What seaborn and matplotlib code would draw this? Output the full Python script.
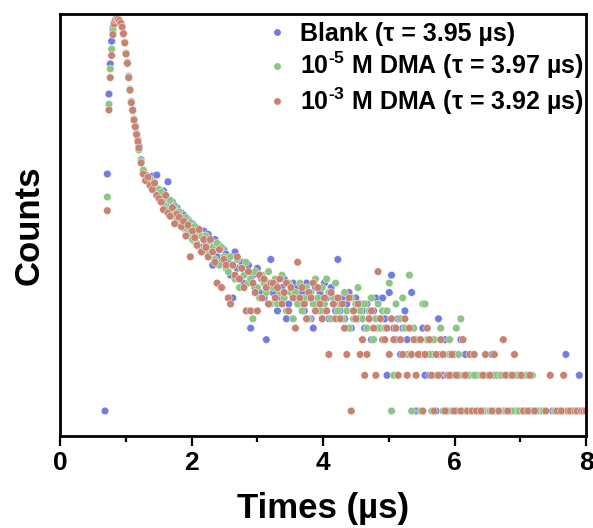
import numpy as np
import pandas as pd
import matplotlib
matplotlib.use("Agg")
import matplotlib.pyplot as plt
import seaborn as sns
from matplotlib.ticker import FixedLocator, NullLocator

# ---------------- data ----------------
# early channels: rise, peak and fast decay (µs)
t_early = [0.685, 0.72, 0.745, 0.765, 0.785, 0.805, 0.825, 0.845, 0.865, 0.885,
           0.905, 0.925, 0.945, 0.965, 0.985, 1.005, 1.025, 1.045, 1.065, 1.085,
           1.105, 1.125, 1.145, 1.165, 1.185]
blank_early = [1, 100, 473, 850, 1320, 1700, 1930, 2020, 2040, 2000,
               1960, 1880, 1750, 1540, 1290, 1050, 870, 670, 520, 410,
               350, 290, 255, 220, 195]
dma5_early = [0, 64, 388, 770, 1130, 1620, 1900, 2000, 2050, 2010,
              1950, 1860, 1730, 1510, 1270, 1040, 850, 660, 515, 405,
              340, 285, 250, 215, 190]
dma3_early = [0, 49, 347, 650, 1000, 1500, 1850, 1990, 2040, 2030,
              1970, 1870, 1740, 1530, 1280, 1030, 860, 650, 510, 400,
              345, 286, 250, 215, 188]

# tail channels 1.200 ... 8.000 µs, 0.034 µs apart (201 channels)
t_tail = np.round(1.20 + 0.034 * np.arange(201), 3)
blank_tail = [172, 132, 104, 98, 92, 84, 96, 78, 98, 70,
              64, 72, 55, 86, 50, 58, 44, 52, 40, 47,
              45, 34, 41, 30, 38, 27, 35, 31, 24, 33,
              26, 31, 22, 17, 28, 20, 25, 18, 23, 21,
              19, 14, 9, 22, 16, 13, 18, 12, 15, 17,
              5, 14, 11, 16, 10, 13, 9, 4, 12, 19,
              10, 12, 7, 9, 11, 13, 6, 8, 10, 12,
              9, 11, 8, 10, 7, 12, 9, 6, 5, 11,
              8, 10, 7, 12, 9, 6, 11, 8, 7, 19,
              7, 9, 6, 8, 10, 5, 7, 9, 6, 8,
              7, 5, 8, 6, 4, 7, 9, 5, 6, 9,
              6, 2, 10, 14, 5, 4, 6, 3, 5, 7,
              4, 3, 10, 5, 1, 4, 3, 5, 2, 4,
              2, 3, 4, 1, 6, 3, 2, 4, 1, 3,
              2, 3, 1, 2, 4, 1, 3, 2, 0, 1,
              0, 2, 1, 0, 2, 1, 0, 1, 3, 2,
              1, 2, 0, 1, 0, 2, 1, 0, 2, 1,
              2, 1, 0, 2, 0, 1, 0, 1, 0, 1,
              1, 0, 0, 0, 0, 1, 0, 0, 1, 0,
              0, 3, 1, 0, 1, 0, 1, 2, 0, 1,
              1]
dma5_tail = [160, 128, 108, 94, 86, 90, 78, 82, 68, 74,
             70, 56, 62, 50, 60, 45, 54, 42, 48, 38,
             35, 43, 31, 39, 28, 36, 26, 33, 30, 23,
             30, 21, 27, 24, 19, 26, 17, 24, 20, 16,
             15, 20, 17, 13, 19, 11, 16, 14, 18, 12,
             13, 6, 15, 11, 9, 14, 12, 10, 15, 8,
             11, 13, 8, 10, 14, 9, 7, 12, 10, 6,
             10, 8, 12, 7, 9, 11, 6, 10, 8, 13,
             9, 7, 11, 8, 13, 10, 6, 9, 12, 7,
             8, 6, 10, 7, 5, 9, 6, 8, 11, 7,
             6, 8, 5, 7, 9, 4, 6, 8, 5, 7,
             5, 7, 12, 1, 2, 8, 2, 6, 9, 5,
             3, 14, 1, 5, 4, 3, 1, 8, 8, 4,
             3, 1, 4, 2, 3, 5, 1, 3, 2, 4,
             1, 2, 5, 3, 6, 2, 1, 0, 2, 3,
             2, 0, 1, 2, 1, 0, 2, 1, 0, 1,
             2, 1, 2, 0, 1, 0, 2, 1, 0, 2,
             1, 0, 2, 1, 2, 0, 2, 0, 1, 0,
             0, 1, 0, 0, 0, 0, 1, 0, 0, 1,
             1, 0, 0, 1, 0, 1, 0, 1, 1, 0,
             0]
dma3_tail = [166, 124, 100, 88, 94, 80, 74, 84, 66, 62,
             58, 50, 66, 47, 44, 52, 38, 46, 43, 36,
             40, 30, 37, 20, 33, 29, 25, 34, 22, 28,
             24, 20, 28, 22, 18, 12, 23, 11, 19, 17,
             9, 8, 17, 14, 20, 13, 16, 11, 7, 15,
             7, 12, 10, 7, 14, 9, 13, 11, 8, 12,
             12, 9, 11, 13, 8, 10, 12, 7, 11, 9,
             5, 18, 9, 11, 8, 6, 10, 9, 12, 7,
             11, 8, 6, 9, 7, 3, 10, 8, 6, 9,
             6, 8, 5, 3, 9, 1, 7, 6, 8, 3,
             4, 2, 3, 6, 7, 5, 2, 15, 6, 4,
             4, 5, 3, 6, 4, 5, 2, 4, 3, 6,
             2, 5, 3, 4, 2, 3, 4, 1, 3, 5,
             4, 2, 1, 3, 2, 4, 3, 1, 2, 2,
             3, 1, 2, 0, 1, 4, 2, 1, 3, 1,
             3, 1, 0, 1, 2, 3, 0, 2, 1, 3,
             0, 1, 0, 4, 2, 1, 0, 2, 3, 0,
             0, 2, 1, 0, 1, 2, 0, 1, 0, 0,
             0, 0, 1, 0, 2, 0, 0, 1, 0, 1,
             2, 0, 1, 1, 0, 1, 1, 0, 1, 1,
             1]

labels = ["Blank (τ = 3.95 µs)",
          r"10$^{\text{-}5}$ M DMA (τ = 3.97 µs)",
          r"10$^{\text{-}3}$ M DMA (τ = 3.92 µs)"]
colors = ["#737de0", "#8dc585", "#c7836f"]
x_ticks = [0, 2, 4, 6, 8]
x_minor = [1, 3, 5, 7]

# ---------------- build long table ----------------
frames = []
for lab, early, tail in zip(labels,
                            [blank_early, dma5_early, dma3_early],
                            [blank_tail, dma5_tail, dma3_tail]):
    t = np.concatenate([t_early, t_tail])
    c = np.concatenate([early, tail]).astype(float)
    d = pd.DataFrame({"time": t, "counts": c, "sample": lab})
    frames.append(d[d["counts"] > 0])
df = pd.concat(frames, ignore_index=True)

# ---------------- plot ----------------
sns.set_style("white")
plt.rcParams["font.family"] = ["Liberation Sans", "DejaVu Sans"]
plt.rcParams["font.weight"] = "bold"
plt.rcParams["text.color"] = "black"
plt.rcParams["axes.labelcolor"] = "black"
plt.rcParams["xtick.color"] = "black"
plt.rcParams["xtick.labelcolor"] = "black"
plt.rcParams["mathtext.fontset"] = "custom"
plt.rcParams["mathtext.rm"] = "Liberation Sans:bold"
plt.rcParams["mathtext.it"] = "Liberation Sans:bold"
plt.rcParams["mathtext.bf"] = "Liberation Sans:bold"

fig = plt.figure(figsize=(5.93, 5.28), dpi=100)
ax = fig.add_axes([60 / 593, 1 - 436 / 528, 526 / 593, 422 / 528])

sns.scatterplot(data=df, x="time", y="counts", hue="sample",
                hue_order=labels, palette=colors, s=30, linewidth=0.3,
                edgecolor="white", alpha=1.0, ax=ax, legend=True)

ax.set_yscale("log")
ax.set_ylim(0.615, 2240)
ax.set_xlim(0, 8)
ax.yaxis.set_major_locator(NullLocator())
ax.yaxis.set_minor_locator(NullLocator())
ax.xaxis.set_major_locator(FixedLocator(x_ticks))
ax.xaxis.set_minor_locator(FixedLocator(x_minor))
ax.set_xticklabels([str(v) for v in x_ticks], fontsize=19, fontweight="bold",
                   color="black")
ax.tick_params(axis="x", which="major", direction="out", length=7, width=1.6,
               bottom=True, pad=4, color="black")
ax.tick_params(axis="x", which="minor", direction="out", length=4, width=1.6,
               bottom=True, color="black")

for sp in ax.spines.values():
    sp.set_visible(True)
    sp.set_linewidth(2.0)
    sp.set_color("black")

ax.set_xlabel("Times (µs)", fontsize=25, fontweight="bold", labelpad=12,
              color="black")
ax.set_ylabel("Counts", fontsize=25, fontweight="bold", labelpad=10,
              color="black")

handles, labs = ax.get_legend_handles_labels()
leg = ax.legend(handles, labs, loc="upper left",
                bbox_to_anchor=(267 / 593, 1 - 22 / 528),
                bbox_transform=fig.transFigure, frameon=False,
                handlelength=0.8, handletextpad=0.5,
                labelspacing=0.16, borderpad=0, borderaxespad=0,
                prop={"weight": "bold", "size": 18})
for h in leg.legend_handles:
    h.set_markersize(5)
    h.set_markeredgewidth(0)
for txt in leg.get_texts():
    txt.set_color("black")

fig.savefig("out.png", dpi=100)
